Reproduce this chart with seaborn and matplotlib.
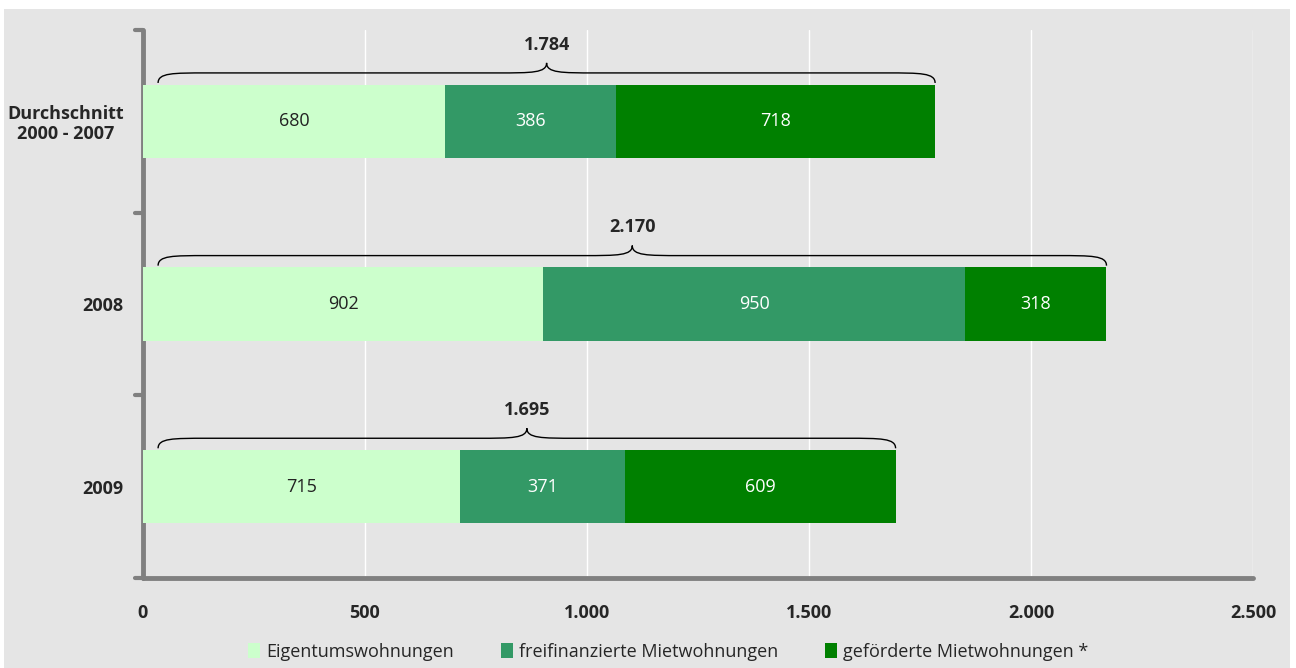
import matplotlib
matplotlib.use("Agg")
import matplotlib.pyplot as plt
from matplotlib.patches import Rectangle, PathPatch
from matplotlib.path import Path
from matplotlib import font_manager
import seaborn as sns
import pandas as pd
import numpy as np

categories = ["Durchschnitt\n2000 - 2007", "2008", "2009"]
eigentum = [680, 902, 715]
freifinanziert = [386, 950, 371]
gefoerdert = [718, 318, 609]
series_names = ["Eigentumswohnungen", "freifinanzierte Mietwohnungen", "geförderte Mietwohnungen *"]
colors = ["#ccffcc", "#339966", "#008000"]
xticks = [0, 500, 1000, 1500, 2000, 2500]
xticklabels = ["0", "500", "1.000", "1.500", "2.000", "2.500"]

sns.set_theme(style="white")
avail = {f.name for f in font_manager.fontManager.ttflist}
fam = "Liberation Sans Narrow" if "Liberation Sans Narrow" in avail else "Open Sans"
plt.rcParams["font.family"] = [fam, "DejaVu Sans"]

def de(n):
    return f"{n:,}".replace(",", ".")

df = pd.DataFrame({"cat": categories, "e": eigentum, "f": freifinanziert, "g": gefoerdert})
df["c1"] = df["e"]
df["c2"] = df["e"] + df["f"]
df["c3"] = df["c2"] + df["g"]

fig = plt.figure(figsize=(12.96, 6.68), dpi=100, facecolor="white")
fig.patches.append(Rectangle((4/1296, 0), (1290-4)/1296, (668-9)/668, transform=fig.transFigure,
                             facecolor="#e5e5e5", edgecolor="none", zorder=-10))
ax = fig.add_axes([143/1296, 1-578/668, (1253-143)/1296, (578-30)/668])
ax.set_facecolor("#e5e5e5")

for col, c in zip(["c3", "c2", "c1"], colors[::-1]):
    sns.barplot(data=df, y="cat", x=col, color=c, orient="h", width=0.4, ax=ax,
                saturation=1, edgecolor="none", linewidth=0, zorder=3)

ax.set_xlim(0, 2500)
ax.set_ylim(2.5, -0.5)
ax.set_xlabel("")
ax.set_ylabel("")
ax.set_xticks(xticks)
ax.set_xticklabels(xticklabels, fontsize=13, fontweight="bold")
ax.set_yticks([0, 1, 2])
ax.set_yticklabels(categories, fontsize=13, fontweight="bold", linespacing=1.1)
for t in ax.get_yticklabels():
    t.set_multialignment("center")
ax.tick_params(axis="y", length=0, pad=14)
ax.tick_params(axis="x", length=7, width=3, color="#808080", pad=12, direction="out")
for yb in [-0.5, 0.5, 1.5, 2.5]:
    ax.plot([-18, 0], [yb, yb], color="#808080", lw=3, clip_on=False, zorder=5,
            solid_capstyle="round")
ax.grid(axis="x", color="white", lw=1.0, zorder=0)
ax.grid(axis="y", visible=False)
for s in ["top", "right"]:
    ax.spines[s].set_visible(False)
for s in ["left", "bottom"]:
    ax.spines[s].set_color("#808080")
    ax.spines[s].set_linewidth(3.5)
    ax.spines[s].set_capstyle("round")

# segment labels
for i in range(3):
    segs = [(0, eigentum[i]), (df["c1"][i], freifinanziert[i]), (df["c2"][i], gefoerdert[i])]
    for j, (start, w) in enumerate(segs):
        tc = "#222222" if j == 0 else "white"
        ax.text(start + w/2, i, de(w), ha="center", va="center", fontsize=13, color=tc, zorder=6)

# braces
for i in range(3):
    total = df["c3"][i]
    x0, x1 = 34, total
    xm = (x0 + x1)/2
    yb = i - 0.21
    yl = i - 0.265
    yt = i - 0.32
    d = 110
    verts = [(x0, yb), (x0, yl), (x0 + d*0.3, yl), (x0 + d, yl),
             (xm - d, yl),
             (xm - d*0.3, yl), (xm, yl), (xm, yt),
             (xm, yl), (xm + d*0.3, yl), (xm + d, yl),
             (x1 - d, yl),
             (x1 - d*0.3, yl), (x1, yl), (x1, yb)]
    codes = [Path.MOVETO, Path.CURVE4, Path.CURVE4, Path.CURVE4,
             Path.LINETO,
             Path.CURVE4, Path.CURVE4, Path.CURVE4,
             Path.CURVE4, Path.CURVE4, Path.CURVE4,
             Path.LINETO,
             Path.CURVE4, Path.CURVE4, Path.CURVE4]
    ax.add_patch(PathPatch(Path(verts, codes), facecolor="none", edgecolor="black", lw=1.0, zorder=6))
    ax.text(xm, i - 0.42, de(total), ha="center", va="center", fontsize=13, fontweight="bold", zorder=6)

handles = [Rectangle((0, 0), 1, 1, facecolor=c, edgecolor="none") for c in colors]
fig.legend(handles, series_names, loc="center", bbox_to_anchor=(668/1296, 1-652/668), ncol=3,
           frameon=False, fontsize=13, handlelength=0.7, handleheight=0.9, handletextpad=0.3,
           columnspacing=2.6)

fig.savefig("out.png", dpi=100, facecolor=fig.get_facecolor())
